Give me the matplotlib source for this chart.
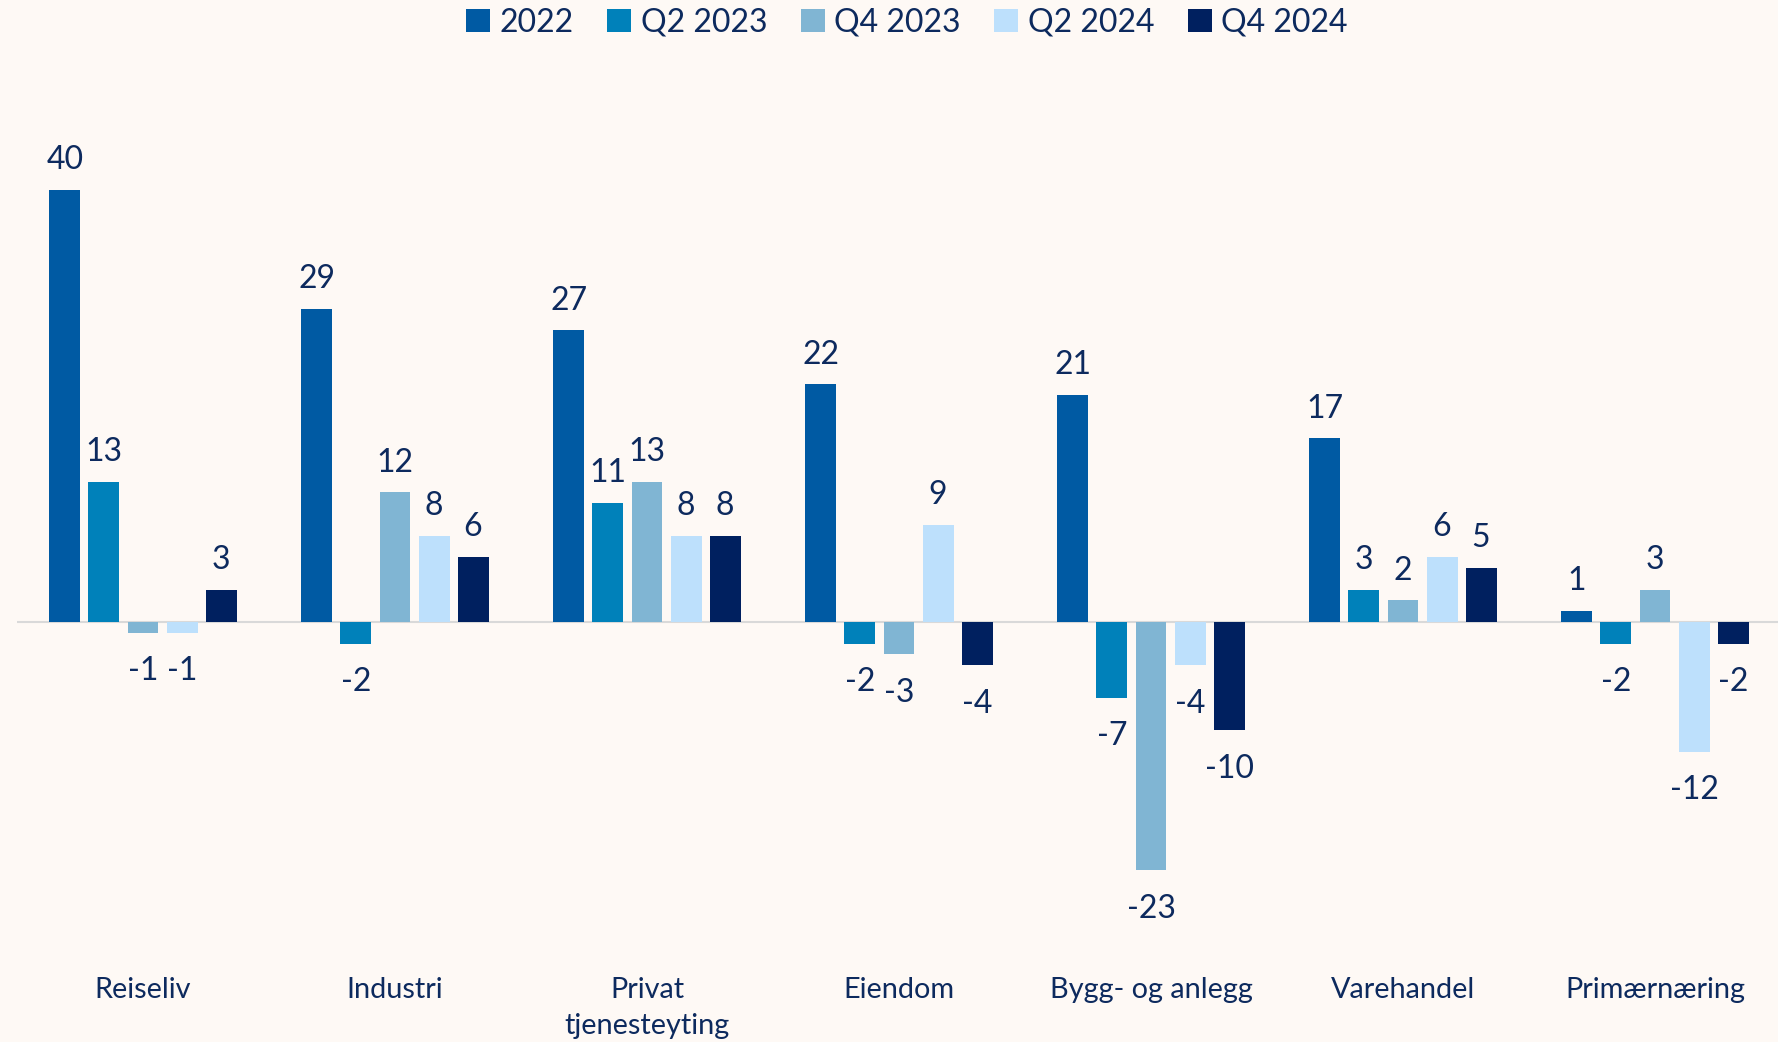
import numpy as np
import matplotlib.pyplot as plt

plt.rcParams['font.family'] = ['Lato', 'DejaVu Sans']

categories = ['Reiseliv', 'Industri', 'Privat\ntjenesteyting', 'Eiendom',
              'Bygg- og anlegg', 'Varehandel', 'Primærnæring']
series = ['2022', 'Q2 2023', 'Q4 2023', 'Q2 2024', 'Q4 2024']
v2022 = [40, 29, 27, 22, 21, 17, 1]
q2_2023 = [13, -2, 11, -2, -7, 3, -2]
q4_2023 = [-1, 12, 13, -3, -23, 2, 3]
q2_2024 = [-1, 8, 8, 9, -4, 6, -12]
q4_2024 = [3, 6, 8, -4, -10, 5, -2]

values = [v2022, q2_2023, q4_2023, q2_2024, q4_2024]
colors = ['#005AA3', '#0081BA', '#80B5D3', '#BDE0FC', '#00205F']
txt = '#0D2A5E'
bg = '#FEF9F5'

fig = plt.figure(figsize=(17.78, 10.42), dpi=100, facecolor=bg)
ax = fig.add_axes([17/1778, 1 - 946/1042, 1764/1778, 810/1042])
ax.set_facecolor(bg)

x = np.arange(len(categories))
w = 0.123
step = 0.1548
for i, (name, vals, c) in enumerate(zip(series, values, colors)):
    xs = x + (i - 2) * step
    ax.bar(xs, vals, width=w, color=c, label=name, zorder=2)
    for xi, v in zip(xs, vals):
        if v >= 0:
            ax.annotate(str(v), (xi, v), xytext=(0, 15), textcoords='offset points',
                        ha='center', va='baseline', fontsize=23, color=txt)
        else:
            ax.annotate(str(v), (xi, v), xytext=(0, -17), textcoords='offset points',
                        ha='center', va='top', fontsize=23, color=txt)

ax.axhline(0, color='#D9D9D9', lw=1.5, zorder=1)
ax.set_xlim(-0.5, 6.5)
ax.set_ylim(-30, 45)
ax.set_yticks([])
ax.set_xticks(x)
ax.set_xticklabels(categories, fontsize=20.8, color=txt, linespacing=1.5)
ax.tick_params(axis='x', length=0, pad=22)
for s in ax.spines.values():
    s.set_visible(False)

leg = fig.legend(loc='center', bbox_to_anchor=(0.51, 0.978), ncol=5, frameon=False,
                 fontsize=23, handlelength=0.75, handleheight=0.75, handletextpad=0.3,
                 columnspacing=1.05)
for t in leg.get_texts():
    t.set_color(txt)

fig.savefig('out.png', dpi=100, facecolor=bg)
